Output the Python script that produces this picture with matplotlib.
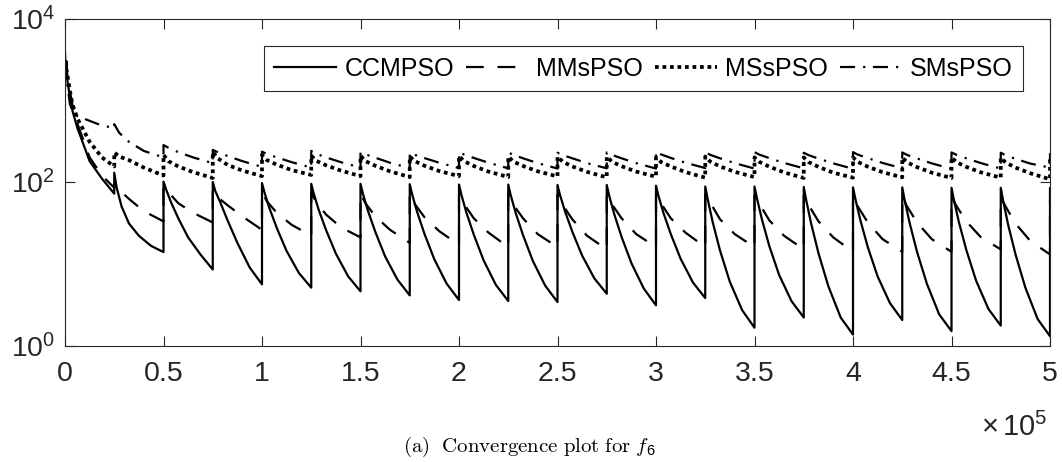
import matplotlib
matplotlib.use("Agg")
import matplotlib.pyplot as plt
from matplotlib.ticker import FixedLocator, FuncFormatter, NullLocator, LogFormatterSciNotation

plt.rcParams['font.family'] = ['Liberation Sans', 'DejaVu Sans']
plt.rcParams['mathtext.fontset'] = 'custom'
plt.rcParams['mathtext.rm'] = 'Liberation Sans'
plt.rcParams['mathtext.it'] = 'Liberation Sans:italic'
plt.rcParams['mathtext.default'] = 'regular'

# ---------------- data ----------------
CYCLE = 25000                       # restart period (function evaluations)
first_evals = [0, 400, 800, 1250, 2500, 3750, 6250, 12500, 18750, 25000]
ccm_offsets = [0, 1250, 3750, 7500, 12500, 18750, 25000]
cycle_offsets = [0, 2500, 7500, 15000, 25000]
final_eval = 500000

ccm_first = [3900, 2200, 3000, 1700, 1100, 750, 460, 180, 110, 72]
ccm_cycles = [
    [130, 85, 50, 31, 22, 16.5, 13.9],
    [101, 82, 57, 36, 21, 13, 8.5],
    [100, 78, 57, 34, 18, 9, 5.6],
    [97, 74.5, 47.9, 27.4, 14.3, 7.7, 5.1],
    [95, 72.4, 45.9, 25.9, 13.3, 7.0, 4.6],
    [95, 71.6, 44.7, 24.6, 12.3, 6.4, 4.1],
    [94, 70, 43, 23.1, 11.3, 5.7, 3.6],
    [93, 69.2, 42.3, 22.7, 11.0, 5.5, 3.5],
    [93, 69, 42, 22.4, 10.8, 5.4, 3.4],
    [92, 69.8, 44.2, 24.7, 12.6, 6.6, 4.3],
    [92, 67.8, 40.8, 21.4, 10.2, 5.0, 3.1],
    [90, 67.6, 42.1, 23.1, 11.5, 5.9, 3.8],
    [88, 61.5, 32.5, 14.5, 6.0, 2.7, 1.65],
    [88, 63.1, 35.0, 16.5, 7.3, 3.5, 2.2],
    [87, 59.9, 31.0, 13.4, 5.3, 2.2, 1.36],
    [86, 61.4, 34.0, 16.0, 7.0, 3.3, 2.05],
    [86, 59.7, 31.5, 14.0, 5.7, 2.4, 1.5],
    [85, 59.8, 32.3, 14.8, 6.2, 2.8, 1.75],
    [85, 58.3, 30.0, 13.0, 5.1, 2.1, 1.3]]
ccm_final = 84

mm_first = [3000, 2600, 2300, 1900, 1300, 880, 520, 200, 120, 85]
mm_cycles = [
    [95, 80, 62, 44, 33], [88, 75, 55, 42, 32], [80, 65, 52, 38, 26],
    [75, 58, 42, 30, 22], [74, 57, 40, 28, 21], [72, 55, 38, 26, 18],
    [72, 54, 37, 25, 17], [70, 54, 36, 24, 16], [70, 53, 36, 23, 16],
    [70, 53, 35, 22, 15], [70, 54, 36, 23, 16], [70, 55, 36, 24, 16],
    [70, 56, 35, 23, 16], [68, 54, 34, 22, 15], [68, 52, 33, 21, 14],
    [66, 50, 32, 20, 14], [66, 50, 32, 20, 14], [66, 51, 33, 21, 15],
    [65, 50, 31, 19, 13]]
mm_final = 62

mss_first = [3000, 2600, 2300, 2000, 1300, 900, 600, 310, 200, 155]
mss_cycles = [
    [230, 205, 185, 150, 120], [215, 180, 155, 132, 112], [234, 195, 162, 138, 118],
    [215, 185, 163, 140, 122], [210, 182, 160, 138, 118], [210, 180, 158, 135, 115],
    [205, 180, 158, 136, 118], [208, 180, 157, 134, 115], [205, 178, 157, 135, 117],
    [205, 178, 155, 133, 114], [205, 178, 156, 134, 116], [200, 176, 155, 132, 113],
    [205, 178, 155, 133, 115], [200, 176, 154, 131, 112], [200, 175, 153, 130, 113],
    [200, 176, 154, 132, 114], [198, 174, 152, 130, 112], [200, 175, 153, 131, 113],
    [198, 173, 150, 128, 108]]
mss_final = 200

sms_first = [3000, 2500, 2100, 1500, 900, 740, 640, 560, 490, 460]
sms_cycles = [
    [510, 400, 310, 240, 200], [283, 262, 232, 200, 170], [247, 232, 208, 180, 153],
    [235, 220, 200, 175, 150], [240, 222, 200, 175, 150], [232, 218, 198, 172, 148],
    [230, 215, 196, 172, 148], [232, 217, 197, 172, 147], [230, 215, 195, 170, 146],
    [228, 214, 195, 170, 147], [230, 215, 195, 170, 146], [235, 218, 197, 172, 148],
    [230, 215, 195, 170, 146], [232, 216, 196, 171, 147], [228, 213, 193, 169, 145],
    [232, 216, 196, 171, 147], [230, 214, 194, 169, 145], [230, 215, 195, 170, 146],
    [228, 212, 192, 168, 150]]
sms_final = 225

labels = ['CCMPSO', 'MMsPSO', 'MSsPSO', 'SMsPSO']
x_ticks = [0, 50000, 100000, 150000, 200000, 250000, 300000, 350000, 400000, 450000, 500000]
y_ticks = [1, 100, 10000]


def assemble(first, cycles, final, offsets):
    xs = list(first_evals)
    ys = list(first)
    for k, vals in enumerate(cycles, start=1):
        for off, v in zip(offsets, vals):
            xs.append(k * CYCLE + off)
            ys.append(v)
    xs.append(final_eval)
    ys.append(final)
    return xs, ys


# ---------------- figure ----------------
fig = plt.figure(figsize=(10.62, 4.62), dpi=100)
ax = fig.add_axes([65 / 1062, 1 - 345.5 / 462, (1050 - 65) / 1062, (345.5 - 18.5) / 462])

dark = '#262626'
lw = 1.6
styles = [
    dict(linestyle='-', linewidth=lw),
    dict(linestyle=(0, (8.0, 6.2)), linewidth=lw),
    dict(linestyle=(0, (1.0, 1.0)), linewidth=2.7),
    dict(linestyle=(0, (6.8, 3.6, 1.0, 3.4)), linewidth=lw),
]
series = [(ccm_first, ccm_cycles, ccm_final, ccm_offsets),
          (mm_first, mm_cycles, mm_final, cycle_offsets),
          (mss_first, mss_cycles, mss_final, cycle_offsets),
          (sms_first, sms_cycles, sms_final, cycle_offsets)]
for (f, c, fin, offs), lab, st in zip(series, labels, styles):
    xs, ys = assemble(f, c, fin, offs)
    ax.plot(xs, ys, color='black', label=lab, **st)

ax.set_yscale('log')
ax.set_xlim(0, 500000)
ax.set_ylim(1, 10000)
ax.xaxis.set_major_locator(FixedLocator(x_ticks))
ax.xaxis.set_major_formatter(FuncFormatter(lambda v, p: f"{v / 1e5:g}"))
ax.yaxis.set_major_locator(FixedLocator(y_ticks))
ax.yaxis.set_major_formatter(LogFormatterSciNotation())
ax.yaxis.set_minor_locator(NullLocator())
ax.xaxis.set_minor_locator(NullLocator())

for s in ax.spines.values():
    s.set_color(dark)
    s.set_linewidth(0.8)
ax.tick_params(axis='both', which='major', direction='in', top=True, right=True,
               length=7.5, width=0.8, color=dark, labelcolor=dark, labelsize=20.5)
ax.tick_params(axis='x', pad=11.5)
ax.tick_params(axis='y', pad=7)

fig.text(1047 / 1062, 1 - 436 / 462, r'$\times\,10^{5}$', ha='right', va='baseline',
         fontsize=21, color=dark)

leg = ax.legend(loc='upper right', ncol=4, fontsize=18, frameon=True, fancybox=False,
                framealpha=1, edgecolor=dark, handlelength=2.48, handletextpad=0.32,
                columnspacing=0.48, borderpad=0.42, borderaxespad=0,
                bbox_to_anchor=((1023 - 65) / 985, 1 - (46 - 18.5) / 327))
leg.get_frame().set_linewidth(0.8)
for t in leg.get_texts():
    t.set_color('black')

fig.text(529 / 1062, 1 - 452 / 462, r'$\mathrm{(a)\ \ Convergence\ plot\ for\ }\mathit{f}_{6}$',
         ha='center', va='baseline', fontsize=15, math_fontfamily='cm', color='black')

fig.savefig('out.png', dpi=100)
